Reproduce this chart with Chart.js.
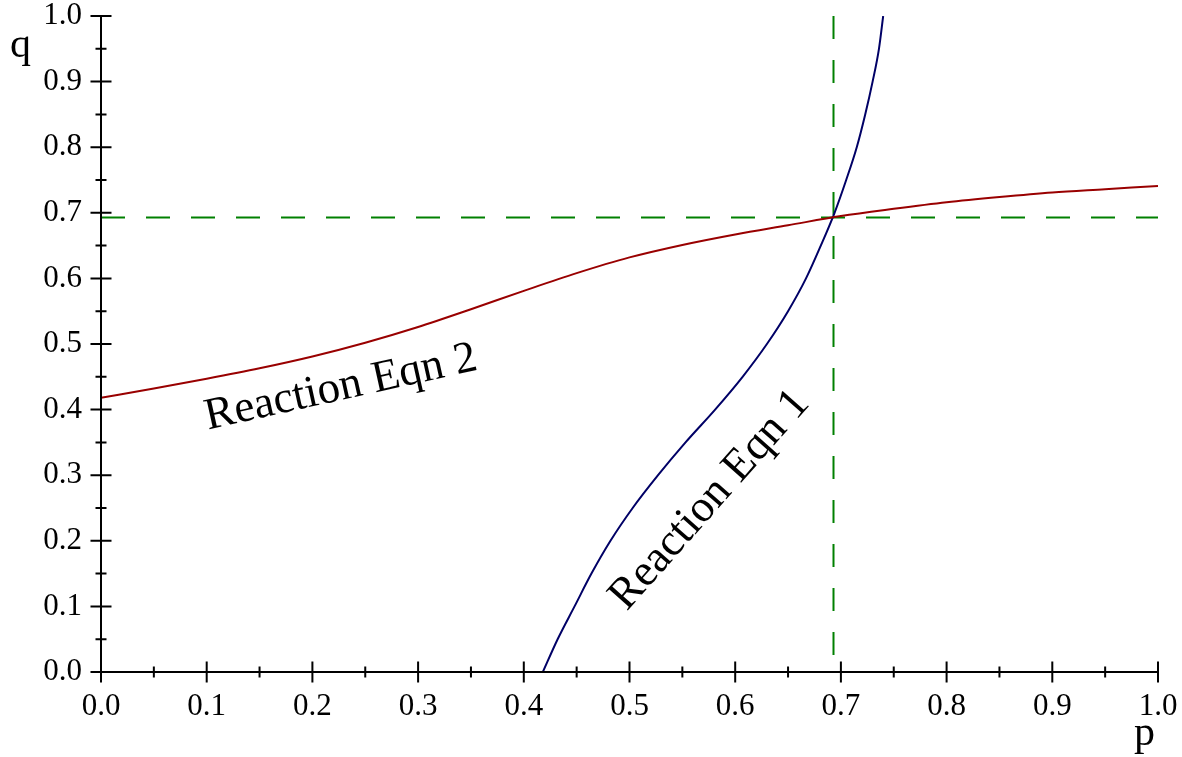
<!DOCTYPE html>
<html>
<head>
<meta charset="utf-8">
<title>Reaction curves</title>
<script src="https://cdn.jsdelivr.net/npm/chart.js@4/dist/chart.umd.min.js"></script>
<style>
  html, body { margin: 0; padding: 0; background: #fff; }
  canvas { display: block; }
</style>
</head>
<body>
<canvas id="chart" width="1182" height="757"></canvas>
<script>
// Reaction Eqn 2: q as a function of p
const eqn2P = [0.00, 0.05, 0.10, 0.15, 0.20, 0.25, 0.30, 0.35, 0.40, 0.45, 0.50, 0.55, 0.60, 0.65, 0.70, 0.75, 0.80, 0.85, 0.90, 0.95, 1.00];
const eqn2Q = [0.418, 0.432, 0.447, 0.463, 0.481, 0.502, 0.526, 0.553, 0.581, 0.608, 0.632, 0.651, 0.667, 0.681, 0.695, 0.706, 0.716, 0.724, 0.731, 0.736, 0.741];

// Reaction Eqn 1: p as a function of q
const eqn1Q = [0.00, 0.05, 0.10, 0.15, 0.20, 0.25, 0.30, 0.35, 0.40, 0.45, 0.50, 0.55, 0.60, 0.65, 0.70, 0.75, 0.80, 0.85, 0.90, 0.95, 1.00];
const eqn1P = [0.418, 0.432, 0.448, 0.464, 0.482, 0.503, 0.527, 0.553, 0.581, 0.607, 0.630, 0.650, 0.667, 0.681, 0.694, 0.705, 0.715, 0.723, 0.730, 0.736, 0.740];

// equilibrium (dashed guides)
const eqP = 0.693;
const eqQ = 0.693;

const axisMin = 0, axisMax = 1, majorStep = 0.1, minorStep = 0.05;

const serif = "'Liberation Serif', 'Times New Roman', serif";

const pts = (xs, ys) => xs.map((x, i) => ({ x, y: ys[i] }));

// text labels placed in data coordinates
const curveLabels = [
  { text: "Reaction Eqn 2", p: 0.227, q: 0.433, angle: -12.5 },
  { text: "Reaction Eqn 1", p: 0.576, q: 0.262, angle: -48.5 },
];

const axesPlugin = {
  id: "axesPlugin",
  afterDatasetsDraw(chart) {
    const { ctx, chartArea: a, scales: { x, y } } = chart;
    const x0 = x.getPixelForValue(0), y0 = y.getPixelForValue(0);
    ctx.save();
    ctx.strokeStyle = "#000";
    ctx.lineWidth = 2;
    ctx.beginPath();
    // axis lines
    ctx.moveTo(a.left - 10, y0);
    ctx.lineTo(x.getPixelForValue(1), y0);
    ctx.moveTo(x0, y.getPixelForValue(1));
    ctx.lineTo(x0, y0 + 10);
    const n = Math.round((axisMax - axisMin) / minorStep);
    for (let i = 0; i <= n; i++) {
      const v = axisMin + i * minorStep;
      const len = i % 2 === 0 ? 10.5 : 5.5;
      const px = x.getPixelForValue(v);
      const py = y.getPixelForValue(v);
      ctx.moveTo(px, y0 - len);
      ctx.lineTo(px, y0 + len);
      ctx.moveTo(x0 - len, py);
      ctx.lineTo(x0 + len, py);
    }
    ctx.stroke();

    ctx.fillStyle = "#000";
    ctx.textAlign = "center";
    ctx.textBaseline = "middle";
    ctx.font = "45px " + serif;
    curveLabels.forEach(l => {
      ctx.save();
      ctx.translate(x.getPixelForValue(l.p), y.getPixelForValue(l.q));
      ctx.rotate(l.angle * Math.PI / 180);
      ctx.fillText(l.text, 0, 0);
      ctx.restore();
    });

    ctx.font = "42px " + serif;
    ctx.textAlign = "left";
    ctx.textBaseline = "alphabetic";
    ctx.fillText("q", 10, 57);
    ctx.fillText("p", 1134, 745);
    ctx.restore();
  }
};

new Chart(document.getElementById("chart"), {
  type: "line",
  data: {
    datasets: [
      {
        label: "Reaction Eqn 2",
        data: pts(eqn2P, eqn2Q),
        borderColor: "#990000",
        borderWidth: 2,
        pointRadius: 0,
        cubicInterpolationMode: "monotone",
      },
      {
        label: "Reaction Eqn 1",
        data: pts(eqn1P, eqn1Q),
        borderColor: "#000066",
        borderWidth: 2,
        pointRadius: 0,
        cubicInterpolationMode: "monotone",
      },
      {
        label: "q*",
        data: [{ x: axisMin, y: eqQ }, { x: axisMax, y: eqQ }],
        borderColor: "#008000",
        borderWidth: 2,
        borderDash: [24, 21],
        pointRadius: 0,
      },
      {
        label: "p*",
        data: [{ x: eqP, y: axisMax }, { x: eqP, y: axisMin }],
        borderColor: "#008000",
        borderWidth: 2,
        borderDash: [23, 21],
        pointRadius: 0,
      },
    ],
  },
  options: {
    responsive: false,
    animation: false,
    layout: { padding: { top: 16, right: 24, left: 0, bottom: 0 } },
    plugins: { legend: { display: false }, tooltip: { enabled: false } },
    scales: {
      x: {
        type: "linear",
        min: axisMin,
        max: axisMax,
        grid: { display: false, drawTicks: false },
        border: { display: false },
        ticks: {
          stepSize: majorStep,
          color: "#000",
          padding: 16,
          maxRotation: 0,
          font: { family: serif, size: 31 },
          callback: v => Number(v).toFixed(1),
        },
        afterFit: s => { s.height = 85; s.paddingLeft = 0; s.paddingRight = 0; },
      },
      y: {
        type: "linear",
        min: axisMin,
        max: axisMax,
        grid: { display: false, drawTicks: false },
        border: { display: false },
        ticks: {
          stepSize: majorStep,
          color: "#000",
          padding: 19,
          font: { family: serif, size: 31 },
          callback: v => Number(v).toFixed(1),
        },
        afterFit: s => { s.width = 101; s.paddingTop = 0; s.paddingBottom = 0; },
      },
    },
  },
  plugins: [axesPlugin],
});
</script>
</body>
</html>
